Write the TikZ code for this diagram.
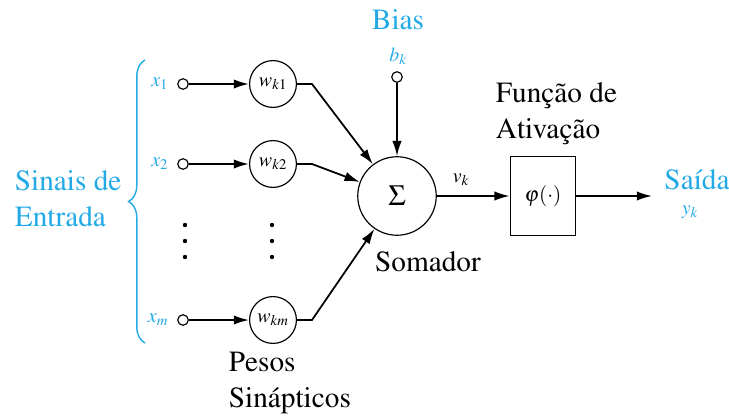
\documentclass[tikz,border=0pt]{standalone}
\usepackage[T1]{fontenc}
\usepackage{mathptmx}
\usetikzlibrary{calc,positioning,decorations.pathreplacing,arrows.meta}
\usepackage{xcolor}
\definecolor{azul}{RGB}{35,170,230}

\tikzset{
  entrada/.style={draw, circle, inner sep=0pt, minimum size=9pt, line width=1pt},
  peso/.style={draw, circle, inner sep=0pt, minimum size=40pt, line width=1pt, font=\fontsize{17}{19}\selectfont},
  rotulo/.style={font=\fontsize{25}{31}\selectfont, inner sep=0pt},
  simbolo/.style={font=\fontsize{17}{19}\selectfont, text=azul, inner sep=0pt}
}

\begin{document}
\begin{tikzpicture}[x=0.03cm, y=-0.03cm, >={Latex[length=13pt,width=8pt]}, line width=1.5pt]
\useasboundingbox (0,0) rectangle (729,419);

% Inputs and synaptic weights
\foreach \i/\s/\y in {1/1/84, 2/2/164, m/km/320} {
    \node[entrada] (x\i) at (183,\y) {};
    \node[simbolo, left=7pt of x\i] {$x_{\i}$};
    \node[peso] (w\i) at (273,\y) {$w_{k\ifx m\i m\else \i\fi}$};
    \coordinate (c\i) at (312,\y);
    \draw[->] (x\i) -- (w\i);
}

% Dots between inputs
\foreach \x in {185, 272} {
    \foreach \y in {225, 241, 257} {
        \fill (\x,\y) circle (2.2);
    }
}

% Summing junction and bias
\node[draw, circle, inner sep=0pt, minimum size=67pt, line width=1pt, font=\fontsize{25}{27}\selectfont] (soma) at (397,196) {$\Sigma$};
\node[entrada] (b) at (397,77) {};
\node[simbolo] (bk) at (398,56) {$b_k$};
\node[rotulo, text=azul] (bias) at (398,20) {Bias};
\draw[->] (b) -- (soma);

\foreach \i in {1, 2, m} {
    \draw[->] (w\i.east) -- (c\i) -- (soma);
}
\node[rotulo] (somador) at (428,262) {Somador};

% Activation function
\node[draw, minimum width=56pt, minimum height=67pt, line width=1pt, font=\fontsize{18}{20}\selectfont] (phi) at (543,196) {$\varphi(\cdot)$};
\draw[->] (soma) -- (phi);
\node[font=\fontsize{17}{19}\selectfont, inner sep=0pt] (vk) at (461,180) {$v_k$};
\node[rotulo, align=left, anchor=west] (funcao) at (495,114) {Função de\\Ativação};

% Output
\coordinate (saida) at (652,196);
\draw[->] (phi) -- (saida);
\node[rotulo, text=azul] (said) at (697,180) {Saída};
\node[simbolo] (yk) at (690,212) {$y_k$};

% Labels on the left
\draw[azul, line width=1.2pt, decorate, decoration={brace, amplitude=14pt}] (145,343) -- (145,60);
\node[rotulo, text=azul, align=left, anchor=west] (sinais) at (14,199) {Sinais de\\Entrada};
\node[rotulo, align=left, anchor=west] (pesos) at (228,383) {Pesos\\Sinápticos};

\end{tikzpicture}
\end{document}
